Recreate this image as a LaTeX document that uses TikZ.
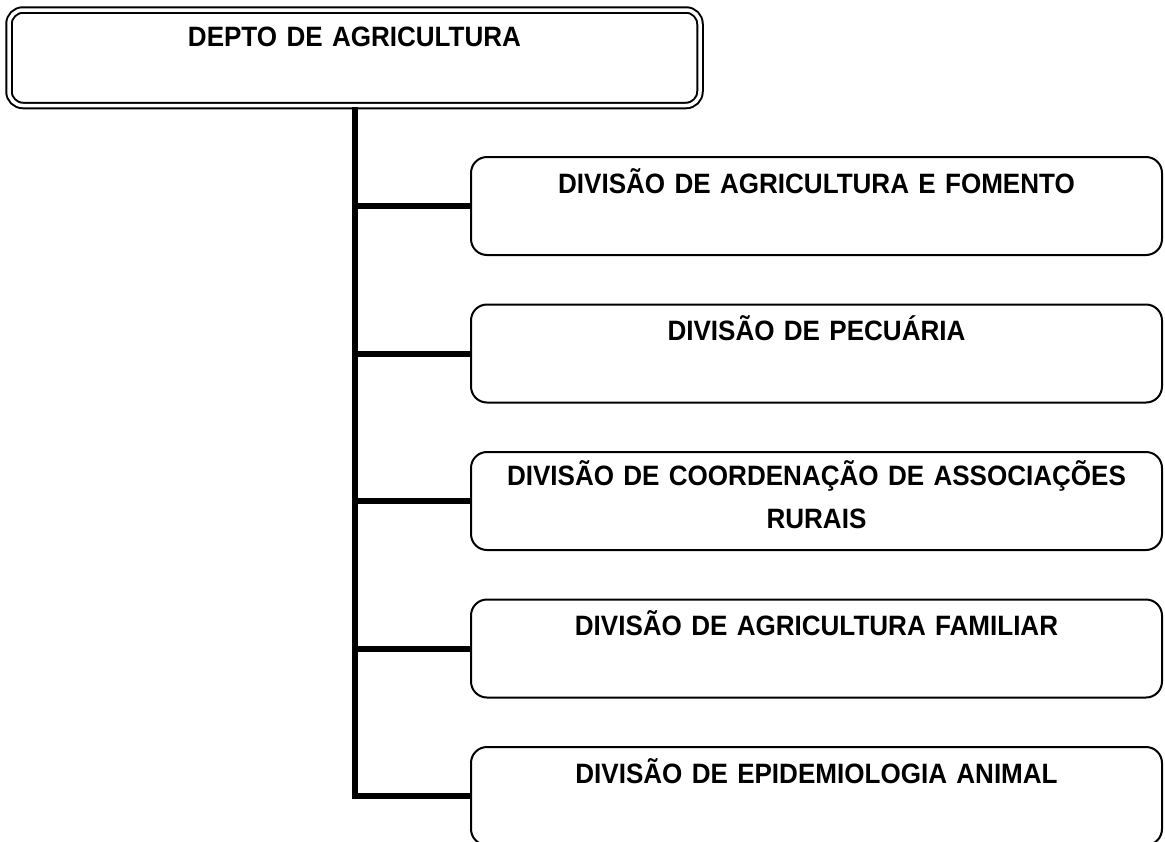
\documentclass[tikz,border=0pt]{standalone}
\usepackage{fontspec}
\setmainfont{Liberation Sans}[FakeStretch=0.93, WordSpace=0.8]
\usetikzlibrary{positioning}
\tikzstyle{chefia} = [rectangle, rounded corners=14pt, text width=691pt, inner sep=0pt, text height=36.5pt, text depth=59pt, align=center, draw=black, line width=2pt, double=white, double distance=3.5pt, font=\bfseries\fontsize{28}{43}\selectfont]
\tikzstyle{divisao} = [rectangle, rounded corners=16pt, text width=691pt, inner sep=0pt, text height=36pt, text depth=62pt, align=center, draw=black, line width=2pt, font=\bfseries\fontsize{28}{43}\selectfont]
\tikzstyle{ramo} = [line width=6pt]
\begin{document}
\begin{tikzpicture}[node distance=147.5pt]
\useasboundingbox (0,0) rectangle (1165pt,-841pt);

%% NODES

\node (depto) [chefia] at (354.5pt,-57.75pt) {DEPTO DE AGRICULTURA};
\node (d1) [divisao] at (816.5pt,-206pt) {DIVISÃO DE AGRICULTURA E FOMENTO};
\node (d2) [divisao, below of=d1] {DIVISÃO DE PECUÁRIA};
\node (d3) [divisao, below of=d2, text height=33pt, text depth=65pt] {DIVISÃO DE COORDENAÇÃO DE ASSOCIAÇÕES\\RURAIS};
\node (d4) [divisao, below of=d3] {DIVISÃO DE AGRICULTURA FAMILIAR};
\node (d5) [divisao, below of=d4] {DIVISÃO DE EPIDEMIOLOGIA ANIMAL};

%% LINES

\draw [ramo] (depto.south) |- (d5.west);
\draw [ramo] (depto.south |- d1.west) -- (d1.west);
\draw [ramo] (depto.south |- d2.west) -- (d2.west);
\draw [ramo] (depto.south |- d3.west) -- (d3.west);
\draw [ramo] (depto.south |- d4.west) -- (d4.west);

\end{tikzpicture}
\end{document}
